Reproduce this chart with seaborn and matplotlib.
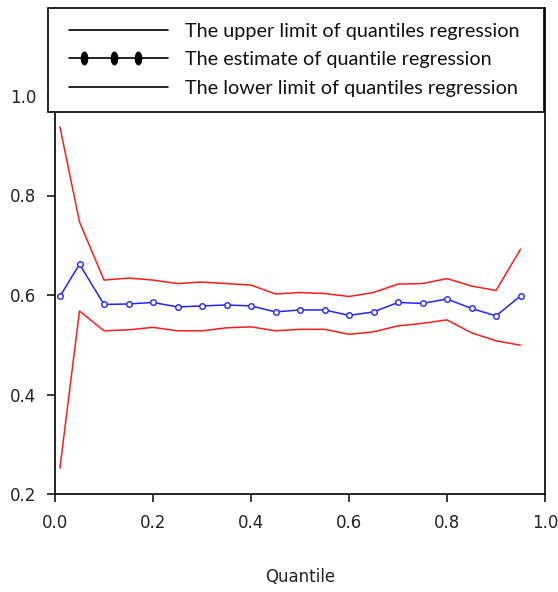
import numpy as np
import pandas as pd
import matplotlib
matplotlib.use('Agg')
import matplotlib.pyplot as plt
import seaborn as sns
from matplotlib.lines import Line2D
from matplotlib.path import Path
from matplotlib.transforms import Affine2D

# quantile grid
quantiles = [0.01, 0.05, 0.10, 0.15, 0.20, 0.25, 0.30, 0.35, 0.40, 0.45,
             0.50, 0.55, 0.60, 0.65, 0.70, 0.75, 0.80, 0.85, 0.90, 0.95]

# upper limit / estimate / lower limit
upper = [0.938, 0.747, 0.630, 0.634, 0.630, 0.623, 0.626, 0.623, 0.620, 0.602,
         0.605, 0.603, 0.597, 0.605, 0.622, 0.623, 0.633, 0.618, 0.609, 0.692]
estimate = [0.597, 0.662, 0.581, 0.582, 0.585, 0.576, 0.578, 0.580, 0.578, 0.566,
            0.570, 0.570, 0.559, 0.566, 0.585, 0.583, 0.592, 0.573, 0.558, 0.598]
lower = [0.252, 0.568, 0.528, 0.530, 0.535, 0.528, 0.528, 0.534, 0.536, 0.528,
         0.531, 0.531, 0.521, 0.526, 0.538, 0.543, 0.550, 0.524, 0.508, 0.499]

legend_labels = ['The upper limit of quantiles regression',
                 'The estimate of quantile regression',
                 'The lower limit of quantiles regression']

df = pd.DataFrame({'q': quantiles, 'upper': upper, 'est': estimate, 'lower': lower})

sns.set_style('ticks')
plt.rcParams['font.family'] = ['DejaVu Sans']

fig = plt.figure(figsize=(5.58, 5.92), dpi=100)
ax = fig.add_axes([55/558, 1 - 494/592, 490/558, 486/592])

sns.lineplot(data=df, x='q', y='upper', ax=ax, color='#ff1a1a', lw=1.1)
sns.lineplot(data=df, x='q', y='lower', ax=ax, color='#ff1a1a', lw=1.1)
sns.lineplot(data=df, x='q', y='est', ax=ax, color='#2323ff', lw=1.1,
             marker='o', markersize=4, markerfacecolor='white',
             markeredgecolor='#2323ff', markeredgewidth=1.0)

ax.set_xlim(0, 1)
ax.set_ylim(0.2, 0.2 + 486/497.5)
ax.set_xticks([0.0, 0.2, 0.4, 0.6, 0.8, 1.0])
ax.set_yticks([0.2, 0.4, 0.6, 0.8, 1.0])
ax.set_xticklabels(['0.0', '0.2', '0.4', '0.6', '0.8', '1.0'])
ax.set_yticklabels(['0.2', '0.4', '0.6', '0.8', '1.0'])
ax.tick_params(axis='both', direction='out', length=5.5, width=1.1,
               labelsize=12, color='black', labelcolor='#222222')
ax.tick_params(axis='y', pad=8)
ax.tick_params(axis='x', pad=9)
ax.set_xlabel('Quantile', fontsize=12, color='#222222', labelpad=26)
ax.set_ylabel('')
for side in ['left', 'bottom', 'right']:
    ax.spines[side].set_visible(True)
    ax.spines[side].set_linewidth(1.2)
    ax.spines[side].set_color('black')
ax.spines['top'].set_visible(False)

# legend with black handles, ellipse markers for the estimate
ell = Path.unit_circle().transformed(Affine2D().scale(0.5, 1.0))
handles = [Line2D([], [], color='black', lw=1.2),
           Line2D([], [], color='black', lw=1.2, marker=ell, markersize=9,
                  markerfacecolor='black', markeredgecolor='black'),
           Line2D([], [], color='black', lw=1.2)]
leg = fig.legend(handles, legend_labels, loc='upper left',
                 bbox_to_anchor=(48/558, 1 - 110/592, 496/558, 102/592),
                 mode='expand', numpoints=21,
                 prop={'family': ['Lato', 'DejaVu Sans'], 'size': 14.3},
                 handlelength=5.6, handletextpad=0.55, borderpad=0.75,
                 labelspacing=0.58, frameon=True, fancybox=False,
                 framealpha=1, edgecolor='black', borderaxespad=0)
leg.get_frame().set_linewidth(1.2)
# only three markers on the estimate handle
leg.legend_handles[1].set_markevery([3, 9, 14])
for t in leg.get_texts():
    t.set_color('#111111')

fig.savefig('out.png', dpi=100)
